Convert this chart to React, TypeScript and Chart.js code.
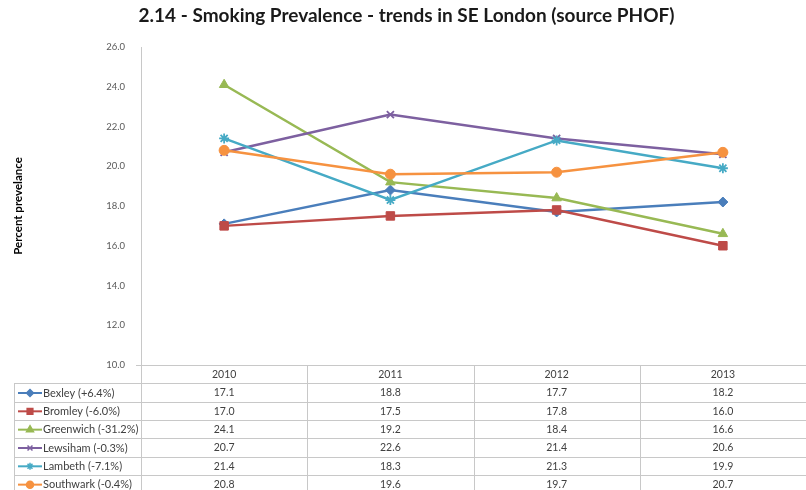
import React, { useEffect, useRef } from "react";
import { Chart, registerables } from "chart.js";
import { drawPoint } from "chart.js/helpers";

Chart.register(...registerables);

const titleText = "2.14 - Smoking Prevalence - trends in SE London (source PHOF)";
const yAxisTitle = "Percent prevelance";
const years = ["2010", "2011", "2012", "2013"];
const seriesNames = [
  "Bexley (+6.4%)",
  "Bromley (-6.0%)",
  "Greenwich (-31.2%)",
  "Lewsiham (-0.3%)",
  "Lambeth (-7.1%)",
  "Southwark (-0.4%)",
];
const bexley = [17.1, 18.8, 17.7, 18.2];
const bromley = [17.0, 17.5, 17.8, 16.0];
const greenwich = [24.1, 19.2, 18.4, 16.6];
const lewisham = [20.7, 22.6, 21.4, 20.6];
const lambeth = [21.4, 18.3, 21.3, 19.9];
const southwark = [20.8, 19.6, 19.7, 20.7];
const seriesValues = [bexley, bromley, greenwich, lewisham, lambeth, southwark];
const yMin = 10;
const yMax = 26;
const yStep = 2;

const colors = ["#4A7EBB", "#BE4B48", "#98B954", "#7D60A0", "#46AAC5", "#F69240"];
const pointStyles = ["rectRot", "rect", "triangle", "crossRot", "star", "circle"];
const pointRadii = [5, 6, 5.5, 5, 5, 5];
const legendRadii = [3.5, 4, 4, 3.5, 3.5, 3.5];

const FONT = "Lato, 'Open Sans', sans-serif";
const CANVAS_W = 813;
const CANVAS_H = 490;

const tablePlugin = {
  id: "tablePlugin",
  afterDraw(chart: any) {
    const ctx = chart.ctx as CanvasRenderingContext2D;
    const area = chart.chartArea;
    const xs = chart.scales.x;
    ctx.save();
    // title
    ctx.font = `bold 19px ${FONT}`;
    ctx.fillStyle = "#1a1a1a";
    ctx.textAlign = "center";
    ctx.textBaseline = "middle";
    ctx.fillText(titleText, CANVAS_W / 2, 16);

    // table geometry
    const rowH = 18.33;
    const top = area.bottom;
    const nRows = seriesNames.length + 1;
    const bottom = top + rowH * nRows;
    const legendLeft = 14;
    const edges: number[] = [area.left];
    for (let i = 0; i < years.length - 1; i++) {
      edges.push((xs.getPixelForValue(i) + xs.getPixelForValue(i + 1)) / 2);
    }
    edges.push(area.right);

    ctx.strokeStyle = "#C8C8C8";
    ctx.lineWidth = 1;
    ctx.beginPath();
    for (let r = 1; r <= nRows; r++) {
      const y = Math.round(top + rowH * r) + 0.5;
      ctx.moveTo(legendLeft, y);
      ctx.lineTo(area.right, y);
    }
    for (const e of edges) {
      const x = Math.round(e) + 0.5;
      ctx.moveTo(x, top);
      ctx.lineTo(x, bottom);
    }
    ctx.moveTo(legendLeft + 0.5, Math.round(top + rowH) + 0.5);
    ctx.lineTo(legendLeft + 0.5, bottom);
    ctx.stroke();

    // header
    ctx.font = `10.5px ${FONT}`;
    ctx.fillStyle = "#404040";
    ctx.textAlign = "center";
    ctx.textBaseline = "middle";
    years.forEach((yr, i) => {
      ctx.fillText(yr, xs.getPixelForValue(i), top + rowH / 2 + 0.5);
    });

    // rows
    seriesNames.forEach((name, s) => {
      const cy = top + rowH * (s + 1) + rowH / 2 + 0.5;
      seriesValues[s].forEach((v, i) => {
        ctx.fillStyle = "#404040";
        ctx.textAlign = "center";
        ctx.fillText(v.toFixed(1), xs.getPixelForValue(i), cy);
      });
      // legend key
      ctx.strokeStyle = colors[s];
      ctx.fillStyle = colors[s];
      ctx.lineWidth = 2;
      ctx.beginPath();
      ctx.moveTo(18, cy);
      ctx.lineTo(42, cy);
      ctx.stroke();
      ctx.lineWidth = 1.5;
      drawPoint(ctx, { pointStyle: pointStyles[s], radius: legendRadii[s], rotation: 0, borderWidth: 1.5 } as any, 30, cy);
      ctx.fillStyle = "#404040";
      ctx.textAlign = "left";
      ctx.font = `11px ${FONT}`;
      ctx.fillText(name, 43, cy);
      ctx.font = `10.5px ${FONT}`;
    });
    ctx.restore();
  },
};

export default function App() {
  const ref = useRef<HTMLCanvasElement | null>(null);
  useEffect(() => {
    if (!ref.current) return;
    Chart.defaults.font.family = FONT;
    const chart = new Chart(ref.current, {
      type: "line",
      data: {
        labels: years,
        datasets: seriesNames.map((name, i) => ({
          label: name,
          data: seriesValues[i],
          borderColor: colors[i],
          backgroundColor: colors[i],
          pointBackgroundColor: colors[i],
          pointBorderColor: colors[i],
          pointStyle: pointStyles[i] as any,
          pointRadius: pointRadii[i],
          pointBorderWidth: i === 3 || i === 4 ? 1.8 : 1,
          borderWidth: 2.5,
          tension: 0,
          fill: false,
          order: seriesNames.length - i,
        })),
      },
      options: {
        responsive: false,
        animation: false,
        devicePixelRatio: 1,
        layout: { padding: { top: 47, bottom: CANVAS_H - 365, left: 0, right: 0 } },
        plugins: {
          legend: { display: false },
          title: { display: false },
          tooltip: { enabled: false },
        },
        scales: {
          x: { display: false, offset: true },
          y: {
            min: yMin,
            max: yMax,
            ticks: {
              stepSize: yStep,
              callback: (v: any) => Number(v).toFixed(1),
              color: "#595959",
              font: { size: 9.5 },
              padding: 11,
            },
            grid: {
              color: (c: any) => (c.tick && c.tick.value === yMin ? "#C8C8C8" : "rgba(0,0,0,0)"),
              tickLength: 5,
              drawTicks: true,
            },
            border: { display: true, color: "#C8C8C8" },
            title: {
              display: true,
              text: yAxisTitle,
              color: "#000000",
              font: { size: 11.5, weight: "bold" },
              padding: { top: 11, bottom: 0 },
            },
            afterFit: (s: any) => {
              s.width = 141;
            },
          },
        },
      },
      plugins: [tablePlugin],
    } as any);
    return () => chart.destroy();
  }, []);
  return (
    <div
      style={{
        position: "fixed",
        left: 0,
        top: 0,
        width: 806,
        height: 490,
        overflow: "hidden",
        background: "#ffffff",
      }}
    >
      <canvas
        ref={ref}
        width={CANVAS_W}
        height={CANVAS_H}
        style={{ width: CANVAS_W, height: CANVAS_H, display: "block" }}
      />
    </div>
  );
}
